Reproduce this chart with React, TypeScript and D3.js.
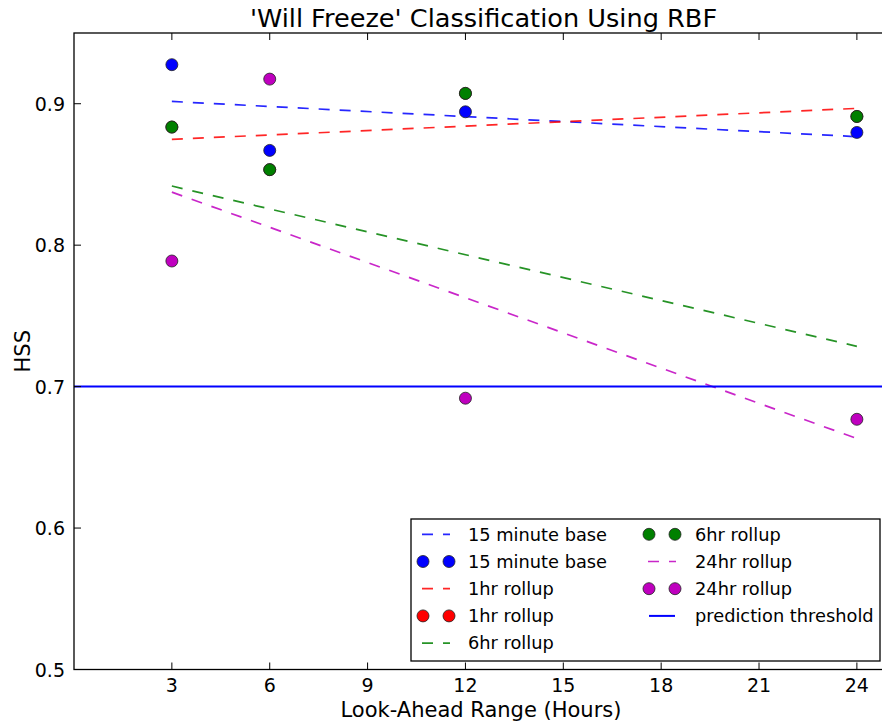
import React from "react";
import * as d3 from "d3";

const hours = [3, 6, 12, 24];
const base15 = [0.9276, 0.867, 0.8943, 0.8797];
const rollup1 = [0.8835, 0.8534, 0.9073, 0.891];
const rollup6 = [0.8835, 0.8534, 0.9073, 0.891];
const rollup24 = [0.7888, 0.9174, 0.6918, 0.6769];

const trendHours = [3, 24];
const trend15 = [0.9016, 0.8767];
const trend1 = [0.8748, 0.8967];
const trend6 = [0.8418, 0.7285];
const trend24 = [0.8375, 0.6633];

const threshold = 0.7;
const xTicks = [3, 6, 9, 12, 15, 18, 21, 24];
const yTicks = [0.5, 0.6, 0.7, 0.8, 0.9];

const title = "'Will Freeze' Classification Using RBF";
const xLabel = "Look-Ahead Range (Hours)";
const yLabel = "HSS";

const C = { b: "#0000ff", r: "#ff0000", g: "#008000", m: "#bf00bf" };

const FONT = "DejaVu Sans, sans-serif";

export default function App() {
  const W = 882, H = 725;
  const left = 74, right = 889.5, top = 33, bottom = 669.5;
  const x = d3.scaleLinear().domain([0, 25]).range([left, right]);
  const y = d3.scaleLinear().domain([0.5, 0.95]).range([bottom, top]);
  const line = d3.line<[number, number]>().x((d) => x(d[0])).y((d) => y(d[1]));

  const trends = [
    { v: trend15, c: C.b },
    { v: trend1, c: C.r },
    { v: trend6, c: C.g },
    { v: trend24, c: C.m },
  ];
  const dots = [
    { v: base15, c: C.b },
    { v: rollup1, c: C.r },
    { v: rollup6, c: C.g },
    { v: rollup24, c: C.m },
  ];

  const legendItems = [
    { label: "15 minute base", type: "dash", c: C.b },
    { label: "15 minute base", type: "dot", c: C.b },
    { label: "1hr rollup", type: "dash", c: C.r },
    { label: "1hr rollup", type: "dot", c: C.r },
    { label: "6hr rollup", type: "dash", c: C.g },
    { label: "6hr rollup", type: "dot", c: C.g },
    { label: "24hr rollup", type: "dash", c: C.m },
    { label: "24hr rollup", type: "dot", c: C.m },
    { label: "prediction threshold", type: "solid", c: C.b },
  ];
  const lgX = 411, lgY = 519, lgW = 469, lgH = 142;
  const rowY = (i: number) => 534.3 + i * 27.2;
  const colX = [423, 649];
  const textX = [468, 695];

  return (
    <svg
      width={W}
      height={H}
      style={{ position: "absolute", left: 0, top: 0, background: "#fff" }}
      fontFamily={FONT}
    >
      <rect x={0} y={0} width={W} height={H} fill="#fff" />
      <defs>
        <clipPath id="plot">
          <rect x={left} y={top} width={right - left} height={bottom - top} />
        </clipPath>
      </defs>
      <g clipPath="url(#plot)">
        {trends.map((t, i) => (
          <path
            key={"t" + i}
            d={line(trendHours.map((h, j) => [h, t.v[j]]) as [number, number][]) || ""}
            fill="none"
            stroke={t.c}
            strokeWidth={1.7}
            strokeOpacity={0.85}
            strokeDasharray="11 10"
          />
        ))}
        {dots.map((s, i) =>
          hours.map((h, j) => (
            <circle
              key={"d" + i + "-" + j}
              cx={x(h)}
              cy={y(s.v[j])}
              r={6}
              fill={s.c}
              stroke="#222"
              strokeWidth={0.8}
            />
          ))
        )}
        <line
          x1={left}
          x2={right}
          y1={y(threshold)}
          y2={y(threshold)}
          stroke={C.b}
          strokeWidth={2}
        />
      </g>
      {/* frame */}
      <rect
        x={left}
        y={top}
        width={right - left}
        height={bottom - top}
        fill="none"
        stroke="#000"
        strokeWidth={1.3}
      />
      {/* x ticks */}
      {xTicks.map((t) => (
        <g key={"xt" + t}>
          <line x1={x(t)} x2={x(t)} y1={bottom} y2={bottom - 7} stroke="#000" strokeWidth={1} />
          <line x1={x(t)} x2={x(t)} y1={top} y2={top + 7} stroke="#000" strokeWidth={1} />
          <text x={x(t)} y={692} textAnchor="middle" fontSize={19} fill="#000">
            {t}
          </text>
        </g>
      ))}
      {yTicks.map((t) => (
        <g key={"yt" + t}>
          <line x1={left} x2={left + 7} y1={y(t)} y2={y(t)} stroke="#000" strokeWidth={1} />
          <line x1={right} x2={right - 7} y1={y(t)} y2={y(t)} stroke="#000" strokeWidth={1} />
          <text x={65} y={y(t) + 7} textAnchor="end" fontSize={19} fill="#000">
            {t.toFixed(1)}
          </text>
        </g>
      ))}
      <text x={483.5} y={27} textAnchor="middle" fontSize={25.6} fill="#000">
        {title}
      </text>
      <text x={481} y={717} textAnchor="middle" fontSize={21} fill="#000">
        {xLabel}
      </text>
      <text
        transform={`translate(30, ${(top + bottom) / 2}) rotate(-90)`}
        textAnchor="middle"
        fontSize={21}
        fill="#000"
      >
        {yLabel}
      </text>
      {/* legend */}
      <rect x={lgX} y={lgY} width={lgW} height={lgH} fill="#fff" stroke="#000" strokeWidth={1.3} />
      {legendItems.map((it, i) => {
        const col = i < 5 ? 0 : 1;
        const row = i < 5 ? i : i - 5;
        const cy = rowY(row);
        const hx = colX[col];
        return (
          <g key={"lg" + i}>
            {it.type === "dash" && (
              <line
                x1={hx - 1}
                x2={hx + 27}
                y1={cy}
                y2={cy}
                stroke={it.c}
                strokeWidth={1.7}
                strokeOpacity={0.85}
                strokeDasharray="11 10"
              />
            )}
            {it.type === "solid" && (
              <line x1={hx} x2={hx + 26} y1={cy} y2={cy} stroke={it.c} strokeWidth={2} />
            )}
            {it.type === "dot" && (
              <g>
                <circle cx={hx} cy={cy} r={6} fill={it.c} stroke="#222" strokeWidth={0.8} />
                <circle cx={hx + 26} cy={cy} r={6} fill={it.c} stroke="#222" strokeWidth={0.8} />
              </g>
            )}
            <text x={textX[col]} y={cy + 6.3} fontSize={17.8} fill="#000">
              {it.label}
            </text>
          </g>
        );
      })}
    </svg>
  );
}
